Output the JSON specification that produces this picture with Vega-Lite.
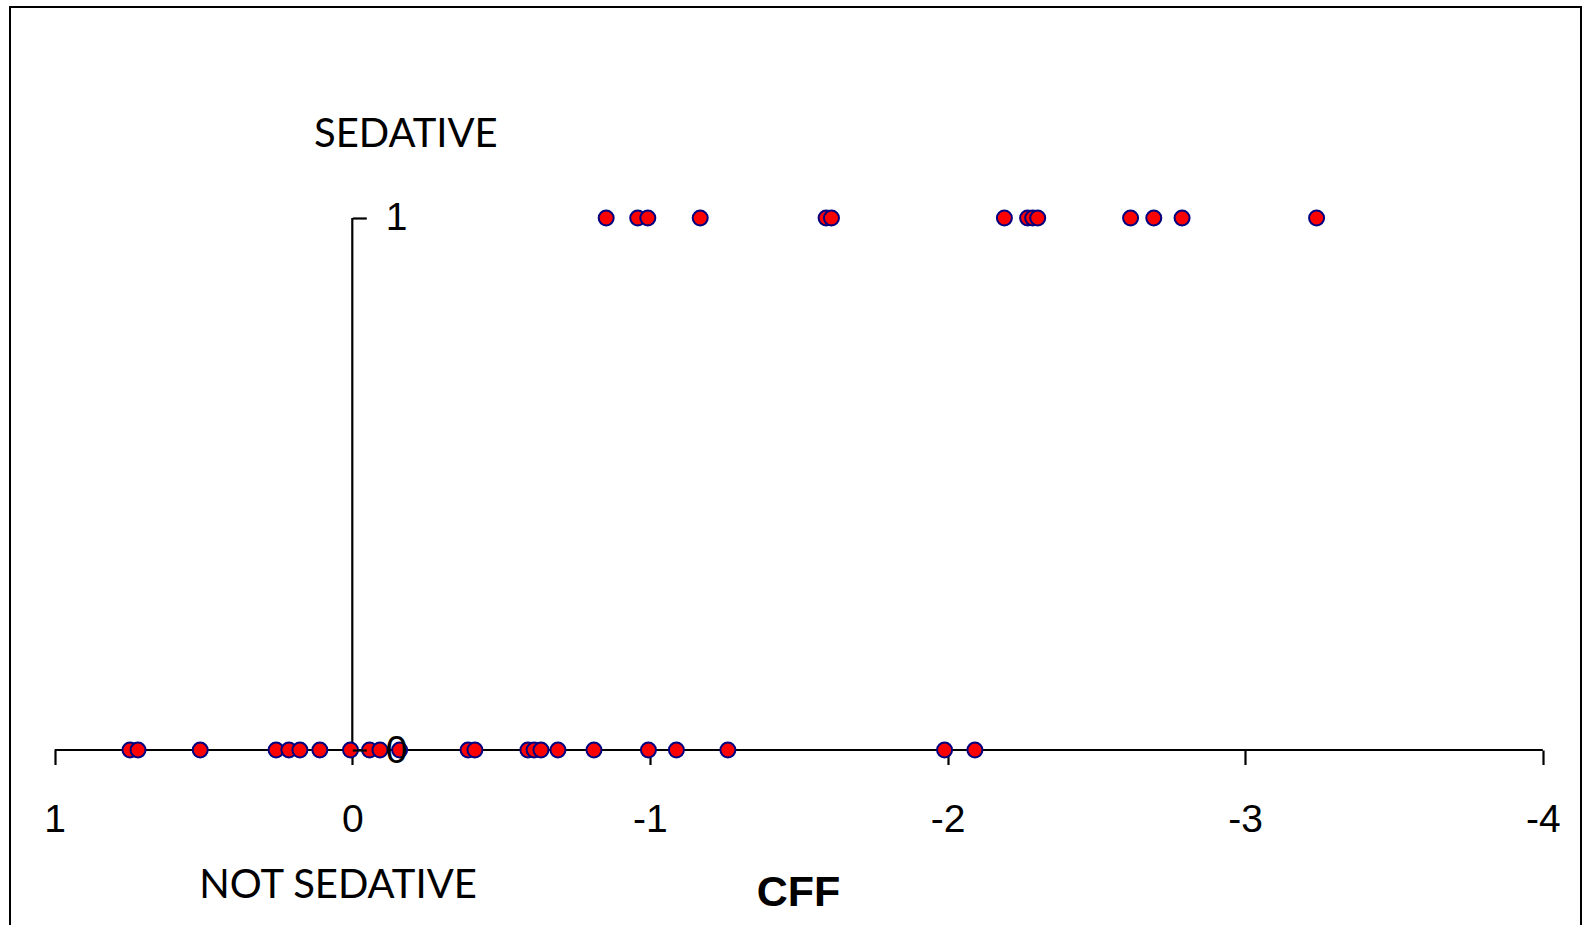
{
  "$schema": "https://vega.github.io/schema/vega-lite/v6.json",
  "width": 1571,
  "height": 920,
  "autosize": "none",
  "padding": {"left": 10, "top": 7, "right": 3, "bottom": -2},
  "background": "white",
  "config": {"view": {"stroke": "black", "strokeWidth": 2}},
  "datasets": {
    "pts": [
      {"cff": -0.853, "sedative": 1}, {"cff": -0.959, "sedative": 1}, {"cff": -0.993, "sedative": 1},
      {"cff": -1.169, "sedative": 1}, {"cff": -1.592, "sedative": 1}, {"cff": -1.610, "sedative": 1},
      {"cff": -2.191, "sedative": 1}, {"cff": -2.269, "sedative": 1}, {"cff": -2.286, "sedative": 1},
      {"cff": -2.303, "sedative": 1}, {"cff": -2.615, "sedative": 1}, {"cff": -2.693, "sedative": 1},
      {"cff": -2.788, "sedative": 1}, {"cff": -3.240, "sedative": 1},
      {"cff": 0.747, "sedative": 0}, {"cff": 0.720, "sedative": 0}, {"cff": 0.511, "sedative": 0},
      {"cff": 0.256, "sedative": 0}, {"cff": 0.213, "sedative": 0}, {"cff": 0.176, "sedative": 0},
      {"cff": 0.109, "sedative": 0}, {"cff": 0.006, "sedative": 0}, {"cff": -0.058, "sedative": 0},
      {"cff": -0.093, "sedative": 0}, {"cff": -0.159, "sedative": 0}, {"cff": -0.389, "sedative": 0},
      {"cff": -0.412, "sedative": 0}, {"cff": -0.590, "sedative": 0}, {"cff": -0.611, "sedative": 0},
      {"cff": -0.634, "sedative": 0}, {"cff": -0.691, "sedative": 0}, {"cff": -0.812, "sedative": 0},
      {"cff": -0.995, "sedative": 0}, {"cff": -1.089, "sedative": 0}, {"cff": -1.262, "sedative": 0},
      {"cff": -1.990, "sedative": 0}, {"cff": -2.092, "sedative": 0}
    ]
  },
  "layer": [
    {
      "data": {"values": [{}]},
      "mark": {"type": "rule", "stroke": "black", "strokeWidth": 2.2},
      "encoding": {
        "x": {"datum": 1, "type": "quantitative", "title": "CFF"},
        "x2": {"datum": -4},
        "y": {"datum": 0, "type": "quantitative", "title": null}
      }
    },
    {
      "data": {"values": [{}]},
      "mark": {"type": "rule", "stroke": "black", "strokeWidth": 2.2},
      "encoding": {
        "x": {"datum": 0, "type": "quantitative", "title": "CFF"},
        "y": {"datum": 0, "type": "quantitative", "title": null},
        "y2": {"datum": 1}
      }
    },
    {
      "data": {"name": "pts"},
      "mark": {"type": "point", "filled": true, "color": "#ff0000", "stroke": "#000080", "strokeWidth": 2, "size": 225, "opacity": 1},
      "encoding": {
        "x": {
          "field": "cff", "type": "quantitative", "title": "CFF",
          "scale": {"domain": [-4.1284, 1.1501], "reverse": true, "nice": false, "zero": false},
          "axis": {
            "orient": "bottom", "offset": -177, "values": [1, 0, -1, -2, -3, -4],
            "domain": false, "grid": false, "ticks": true, "tickSize": 14.5, "tickWidth": 2.2, "tickColor": "black",
            "labelFont": "Liberation Sans", "labelFontSize": 39, "labelColor": "black", "labelPadding": 35.5,
            "labelFlush": false, "labelOverlap": false, "labelExpr": "'' + datum.value",
            "titleFont": "Liberation Sans", "titleFontSize": 43, "titleFontWeight": "bold", "titleColor": "black",
            "titleX": 788, "titleY": 155, "titleBaseline": "alphabetic", "titleAlign": "center", "titleAnchor": null
          }
        },
        "y": {
          "field": "sedative", "type": "quantitative", "title": null,
          "scale": {"domain": [-0.3327, 1.3966], "nice": false, "zero": false},
          "axis": {
            "orient": "left", "offset": -342.3, "values": [0, 1], "domain": false, "grid": false,
            "tickSize": -14, "tickWidth": 2.2, "tickColor": "black",
            "labelAlign": "left", "labelBaseline": "middle", "labelPadding": -19,
            "labelFont": "Liberation Sans", "labelFontSize": 39, "labelColor": "black",
            "labelFlush": false, "labelOverlap": false, "labelExpr": "'' + datum.value", "zindex": 1
          }
        }
      }
    },
    {
      "data": {"values": [{}]},
      "mark": {"type": "text", "font": "Lato", "fontSize": 40, "color": "black", "align": "center", "baseline": "alphabetic"},
      "encoding": {
        "x": {"datum": -0.18, "type": "quantitative", "title": "CFF"},
        "y": {"datum": 1.1335, "type": "quantitative", "title": null},
        "text": {"value": "SEDATIVE"}
      }
    },
    {
      "data": {"values": [{}]},
      "mark": {"type": "text", "font": "Lato", "fontSize": 40, "color": "black", "align": "center", "baseline": "alphabetic"},
      "encoding": {
        "x": {"datum": 0.048, "type": "quantitative", "title": "CFF"},
        "y": {"datum": -0.278, "type": "quantitative", "title": null},
        "text": {"value": "NOT SEDATIVE"}
      }
    }
  ]
}
